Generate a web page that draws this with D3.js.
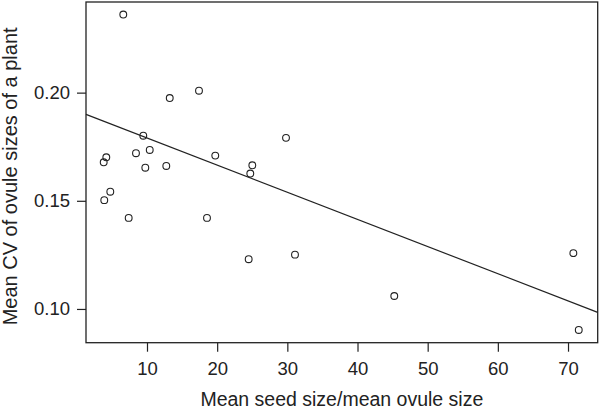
<!DOCTYPE html>
<html>
<head>
<meta charset="utf-8">
<script src="https://cdn.jsdelivr.net/npm/d3@7"></script>
<style>
  body { margin: 0; background: #fff; }
  text { font-family: "Liberation Sans", Arial, sans-serif; fill: #222; }
</style>
</head>
<body>
<svg id="chart"></svg>
<script>
// seed/ovule size ratio per plant
const seedRatio = [6.62, 17.41, 13.24, 9.47, 29.81, 4.20, 3.83, 8.43, 10.39, 19.73, 9.76, 12.75,
    25.01, 24.72, 4.77, 3.91, 7.39, 18.55, 24.49, 31.09, 45.24, 70.76, 71.53]
const ovuleCV = [0.2361, 0.2009, 0.1975, 0.1801, 0.1791, 0.1701, 0.1678, 0.1720, 0.1735, 0.1709, 0.1653, 0.1661,
    0.1664, 0.1626, 0.1542, 0.1503, 0.1421, 0.1421, 0.1230, 0.1251, 0.1060, 0.1258, 0.0903]

const xTicks = [10, 20, 30, 40, 50, 60, 70]
const yTicks = [0.10, 0.15, 0.20]
const yTickLabels = ["0.10", "0.15", "0.20"]

// fitted regression line
const fitIntercept = 0.1916
const fitSlope = -0.001255

const width = 600
const height = 411
const margin = { top: 2, right: 2.3, bottom: 68.3, left: 86 }

const svg = d3.select("#chart")
    .attr("width", width)
    .attr("height", height)

const x = d3.scaleLinear()
    .domain([1.307, 74.23])
    .range([margin.left, width - margin.right])

const y = d3.scaleLinear()
    .domain([0.0844, 0.2419])
    .range([height - margin.bottom, margin.top])

const points = seedRatio.map((d, i) => ({ x: d, y: ovuleCV[i] }))

// box round the plot
svg.append("rect")
    .attr("x", margin.left)
    .attr("y", margin.top)
    .attr("width", width - margin.left - margin.right)
    .attr("height", height - margin.top - margin.bottom)
    .attr("fill", "none")
    .attr("stroke", "#222")
    .attr("stroke-width", 1.3)

// x axis
const xAxis = svg.append("g")
    .attr("transform", `translate(0,${height - margin.bottom})`)
    .call(d3.axisBottom(x).tickValues(xTicks).tickSize(9).tickPadding(10).tickFormat(d3.format("d")))
xAxis.select(".domain").remove()
xAxis.selectAll("line").attr("stroke", "#222").attr("stroke-width", 1.2)
xAxis.selectAll("text").attr("font-size", 18.5).attr("fill", "#222")

// y axis
const yAxis = svg.append("g")
    .attr("transform", `translate(${margin.left},0)`)
    .call(d3.axisLeft(y).tickValues(yTicks).tickSize(9).tickPadding(7).tickFormat((d, i) => yTickLabels[i]))
yAxis.select(".domain").remove()
yAxis.selectAll("line").attr("stroke", "#222").attr("stroke-width", 1.2)
yAxis.selectAll("text").attr("font-size", 18.5).attr("fill", "#222")

// regression line
svg.append("line")
    .attr("x1", x(x.domain()[0]))
    .attr("y1", y(fitIntercept + fitSlope * x.domain()[0]))
    .attr("x2", x(x.domain()[1]))
    .attr("y2", y(fitIntercept + fitSlope * x.domain()[1]))
    .attr("stroke", "#222")
    .attr("stroke-width", 1.2)

// points
svg.selectAll("circle")
    .data(points)
    .enter()
    .append("circle")
    .attr("cx", d => x(d.x))
    .attr("cy", d => y(d.y))
    .attr("r", 3.4)
    .attr("fill", "none")
    .attr("stroke", "#222")
    .attr("stroke-width", 1.1)

// axis titles
svg.append("text")
    .attr("x", (margin.left + width - margin.right) / 2)
    .attr("y", 406)
    .attr("text-anchor", "middle")
    .attr("font-size", 19.5)
    .text("Mean seed size/mean ovule size")

svg.append("text")
    .attr("transform", `translate(17,${(margin.top + height - margin.bottom) / 2 + 4}) rotate(-90)`)
    .attr("text-anchor", "middle")
    .attr("font-size", 20)
    .text("Mean CV of ovule sizes of a plant")
</script>
</body>
</html>
